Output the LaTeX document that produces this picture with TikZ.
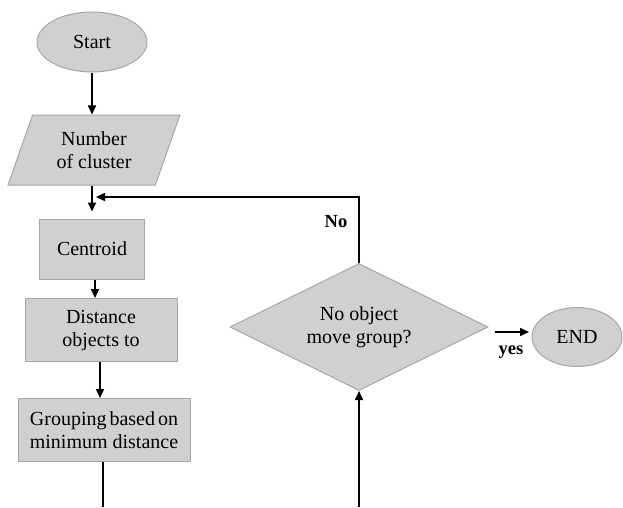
\documentclass[tikz,border=0pt]{standalone}
\usepackage{fontspec}
\setmainfont{Liberation Serif}
\usetikzlibrary{shapes.geometric,arrows.meta}
\definecolor{boxfill}{RGB}{208,208,208}
\definecolor{boxline}{RGB}{165,165,165}
\tikzset{
  base/.style={fill=boxfill,draw=boxline,line width=1pt,font=\fontsize{20}{23}\selectfont,align=center,inner sep=0pt},
  term/.style={base,ellipse},
  procbox/.style={base,rectangle},
  iobox/.style={base,trapezium,trapezium left angle=68,trapezium right angle=112,trapezium stretches=true},
  decide/.style={base,diamond,aspect=2.03},
  conn/.style={line width=1.6pt,black},
  arr/.style={conn,-{Triangle[length=9pt,width=8pt]}},
  lab/.style={font=\fontsize{18.5}{20}\selectfont\bfseries,inner sep=0pt}
}
\begin{document}
\begin{tikzpicture}[x=1pt,y=-1pt]
\useasboundingbox (0,0) rectangle (623,507);
\node[term,minimum width=110,minimum height=60] (start) at (92,42) {Start};
\node[iobox,minimum width=172,minimum height=70] (num) at (94,150) {Number\\of cluster};
\node[procbox,minimum width=105,minimum height=60] (cen) at (92,249) {Centroid};
\node[procbox,minimum width=152,minimum height=63] (dist) at (101,330) {Distance\\objects to};
\node[procbox,minimum width=172,minimum height=63] (grp) at (104,430) {\spaceskip=0.15em Grouping based on\\minimum distance};
\node[decide,minimum width=258,minimum height=127] (dec) at (359,327) {No object\\move group?};
\node[term,minimum width=90,minimum height=59] (end) at (577,337) {END};
\node[lab] (no) at (336,222) {No};
\node[lab] (yes) at (511,352) {yes};
\coordinate (join) at (96,197);
\coordinate (gbot) at (103,507);
\coordinate (dbot) at (359,507);
\coordinate (ya) at (495,332);
\coordinate (yb) at (529,332);
\draw[arr] (start.south) -- (start.south |- num.north);
\draw[arr] (num.south -| cen.north) -- ++(0,26);
\draw[arr] (dec.north) |- (join);
\draw[arr] (cen.south -| 95,0) -- (dist.north -| 95,0);
\draw[arr] (dist.south -| 100,0) -- (grp.north -| 100,0);
\draw[conn] (grp.south -| gbot) -- (gbot);
\draw[arr] (dbot) -- (dec.south);
\draw[arr] (ya) -- (yb);
\end{tikzpicture}
\end{document}
